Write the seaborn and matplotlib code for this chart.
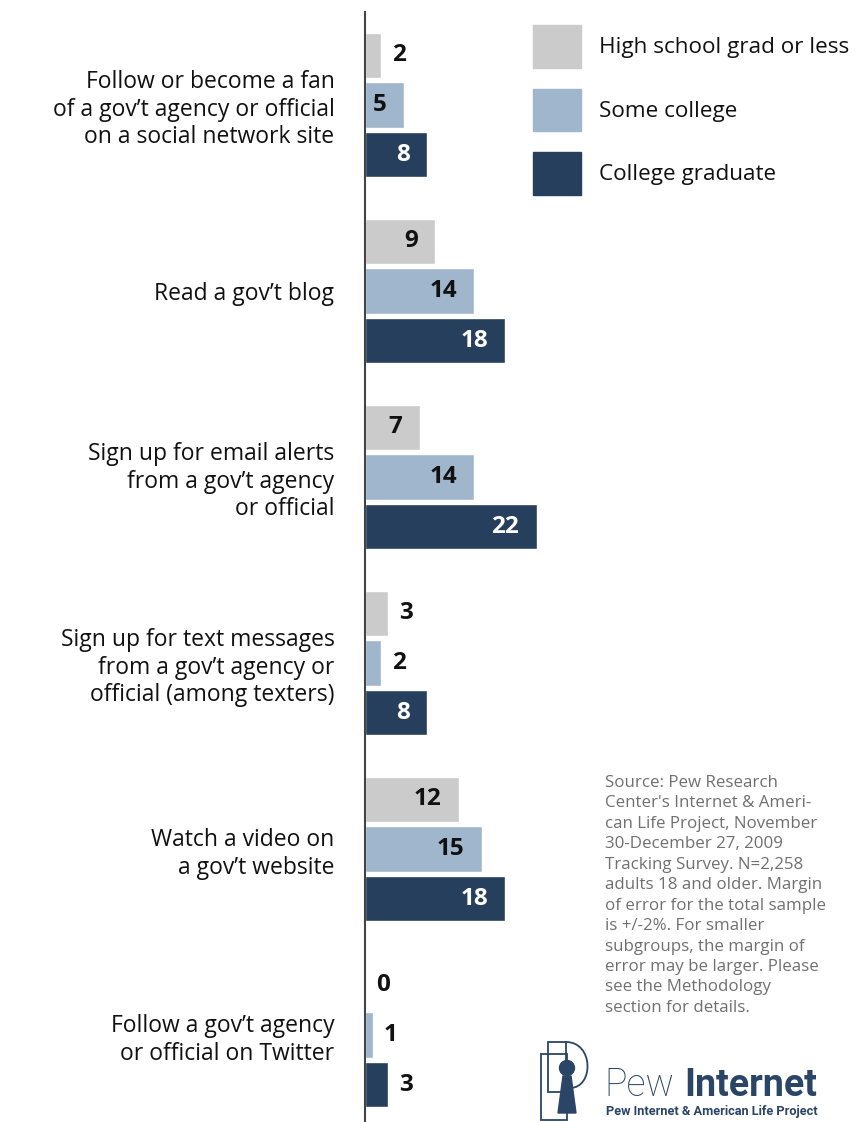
import numpy as np
import pandas as pd
import matplotlib.pyplot as plt
import matplotlib.patches as mpatches
import seaborn as sns

# data (%)
activities = [
    "Follow or become a fan\nof a gov\u2019t agency or official\non a social network site",
    "Read a gov\u2019t blog",
    "Sign up for email alerts\nfrom a gov\u2019t agency\nor official",
    "Sign up for text messages\nfrom a gov\u2019t agency or\nofficial (among texters)",
    "Watch a video on\na gov\u2019t website",
    "Follow a gov\u2019t agency\nor official on Twitter",
]
groups = ["High school grad or less", "Some college", "College graduate"]
hs_or_less = [2, 9, 7, 3, 12, 0]
some_college = [5, 14, 14, 2, 15, 1]
college_grad = [8, 18, 22, 8, 18, 3]

colors = ["#cbcbcb", "#a0b6cd", "#253f5c"]
label_colors = ["#111111", "#111111", "white"]

df = pd.DataFrame({
    "activity": activities * 3,
    "group": np.repeat(groups, len(activities)),
    "pct": hs_or_less + some_college + college_grad,
})

sns.set_theme(style="white")
plt.rcParams["font.family"] = ["Open Sans", "DejaVu Sans"]

fig = plt.figure(figsize=(8.58, 11.22), dpi=100)
ax = fig.add_axes([365 / 858, 0, 493 / 858, 1 - 12 / 1122])

sns.barplot(data=df, y="activity", x="pct", hue="group", orient="h",
            palette=colors, saturation=1, width=0.8, gap=0.09, ax=ax)

ax.set_xlim(0, 493 / 7.8)
ax.set_ylim(5.468, -0.5)
ax.set_xlabel("")
ax.set_ylabel("")
ax.set_xticks([])
ax.tick_params(axis="y", length=0, pad=22, labelsize=16.5, labelcolor="#111111")
for lbl in ax.get_yticklabels():
    lbl.set_linespacing(1.2)
for s in ["top", "right", "bottom"]:
    ax.spines[s].set_visible(False)
ax.spines["left"].set_color("#444444")
ax.spines["left"].set_linewidth(1.5)
ax.spines["left"].set_zorder(5)

# value labels: inside the bar when it is long enough, else just past its end
for cont, tcol in zip(ax.containers, label_colors):
    for bar in cont:
        v = bar.get_width()
        y = bar.get_y() + bar.get_height() / 2
        if v >= 5:
            ax.annotate(f"{v:.0f}", (v, y), xytext=(-12.5, 0),
                        textcoords="offset points", ha="right", va="center",
                        fontsize=17.5, fontweight="bold", color=tcol)
        else:
            ax.annotate(f"{v:.0f}", (v, y), xytext=(8, 0),
                        textcoords="offset points", ha="left", va="center",
                        fontsize=17.5, fontweight="bold", color="#111111")

# legend
ax.legend_.remove()
handles = [mpatches.Patch(color=c) for c in colors]
fig.legend(handles, groups, loc="upper left",
           bbox_to_anchor=(533 / 858, 1 - 25 / 1122), bbox_transform=fig.transFigure,
           frameon=False, fontsize=16.2, borderpad=0, borderaxespad=0,
           handlelength=2.15, handleheight=2.55, handletextpad=0.78,
           labelspacing=0.92, labelcolor="#111111")

# source note
source = ("Source: Pew Research\nCenter's Internet & Ameri-\ncan Life Project, November\n"
          "30-December 27, 2009\nTracking Survey. N=2,258\nadults 18 and older. Margin\n"
          "of error for the total sample\nis +/-2%. For smaller\nsubgroups, the margin of\n"
          "error may be larger. Please\nsee the Methodology\nsection for details.")
fig.text(605 / 858, 1 - 775 / 1122, source, ha="left", va="top", fontsize=12.2,
         color="#707070", linespacing=1.37)

# logo
navy = "#2a4565"
W, H = 858, 1122
def fx(x):
    return x / W
def fy(y):
    return 1 - y / H

fig.text(fx(604), fy(1096), "Pew", fontsize=27, color=navy,
         fontweight="light", ha="left", va="baseline", family=["Roboto", "DejaVu Sans"])
fig.text(fx(684), fy(1096), "Internet", fontsize=27, color=navy,
         fontweight="bold", ha="left", va="baseline", family=["Roboto", "DejaVu Sans"])
fig.text(fx(606), fy(1115), "Pew Internet & American Life Project",
         fontsize=9.2, color=navy, fontweight="bold", ha="left", va="baseline",
         family=["Roboto", "DejaVu Sans"])

fig.add_artist(mpatches.Rectangle((fx(541), fy(1120)), 26 / W, 66 / H, fill=False,
                                  edgecolor=navy, lw=1.3, transform=fig.transFigure))
fig.add_artist(mpatches.Rectangle((fx(548), fy(1092)), 18 / W, 50 / H, fill=False,
                                  edgecolor=navy, lw=1.3, transform=fig.transFigure))
fig.add_artist(mpatches.PathPatch(
    mpatches.Path([(fx(566), fy(1042)), (fx(594), fy(1042)), (fx(594), fy(1088)),
                   (fx(570), fy(1088))],
                  [mpatches.Path.MOVETO, mpatches.Path.CURVE4, mpatches.Path.CURVE4,
                   mpatches.Path.CURVE4]),
    fill=False, edgecolor=navy, lw=1.3, transform=fig.transFigure))
fig.add_artist(mpatches.Ellipse((fx(567), fy(1068)), 15 / W, 15 / H, color=navy,
                                transform=fig.transFigure))
fig.add_artist(mpatches.Polygon([(fx(563), fy(1076)), (fx(571), fy(1076)),
                                 (fx(576), fy(1113)), (fx(558), fy(1113))],
                                closed=True, color=navy, transform=fig.transFigure))

fig.savefig("out.png", dpi=100)
